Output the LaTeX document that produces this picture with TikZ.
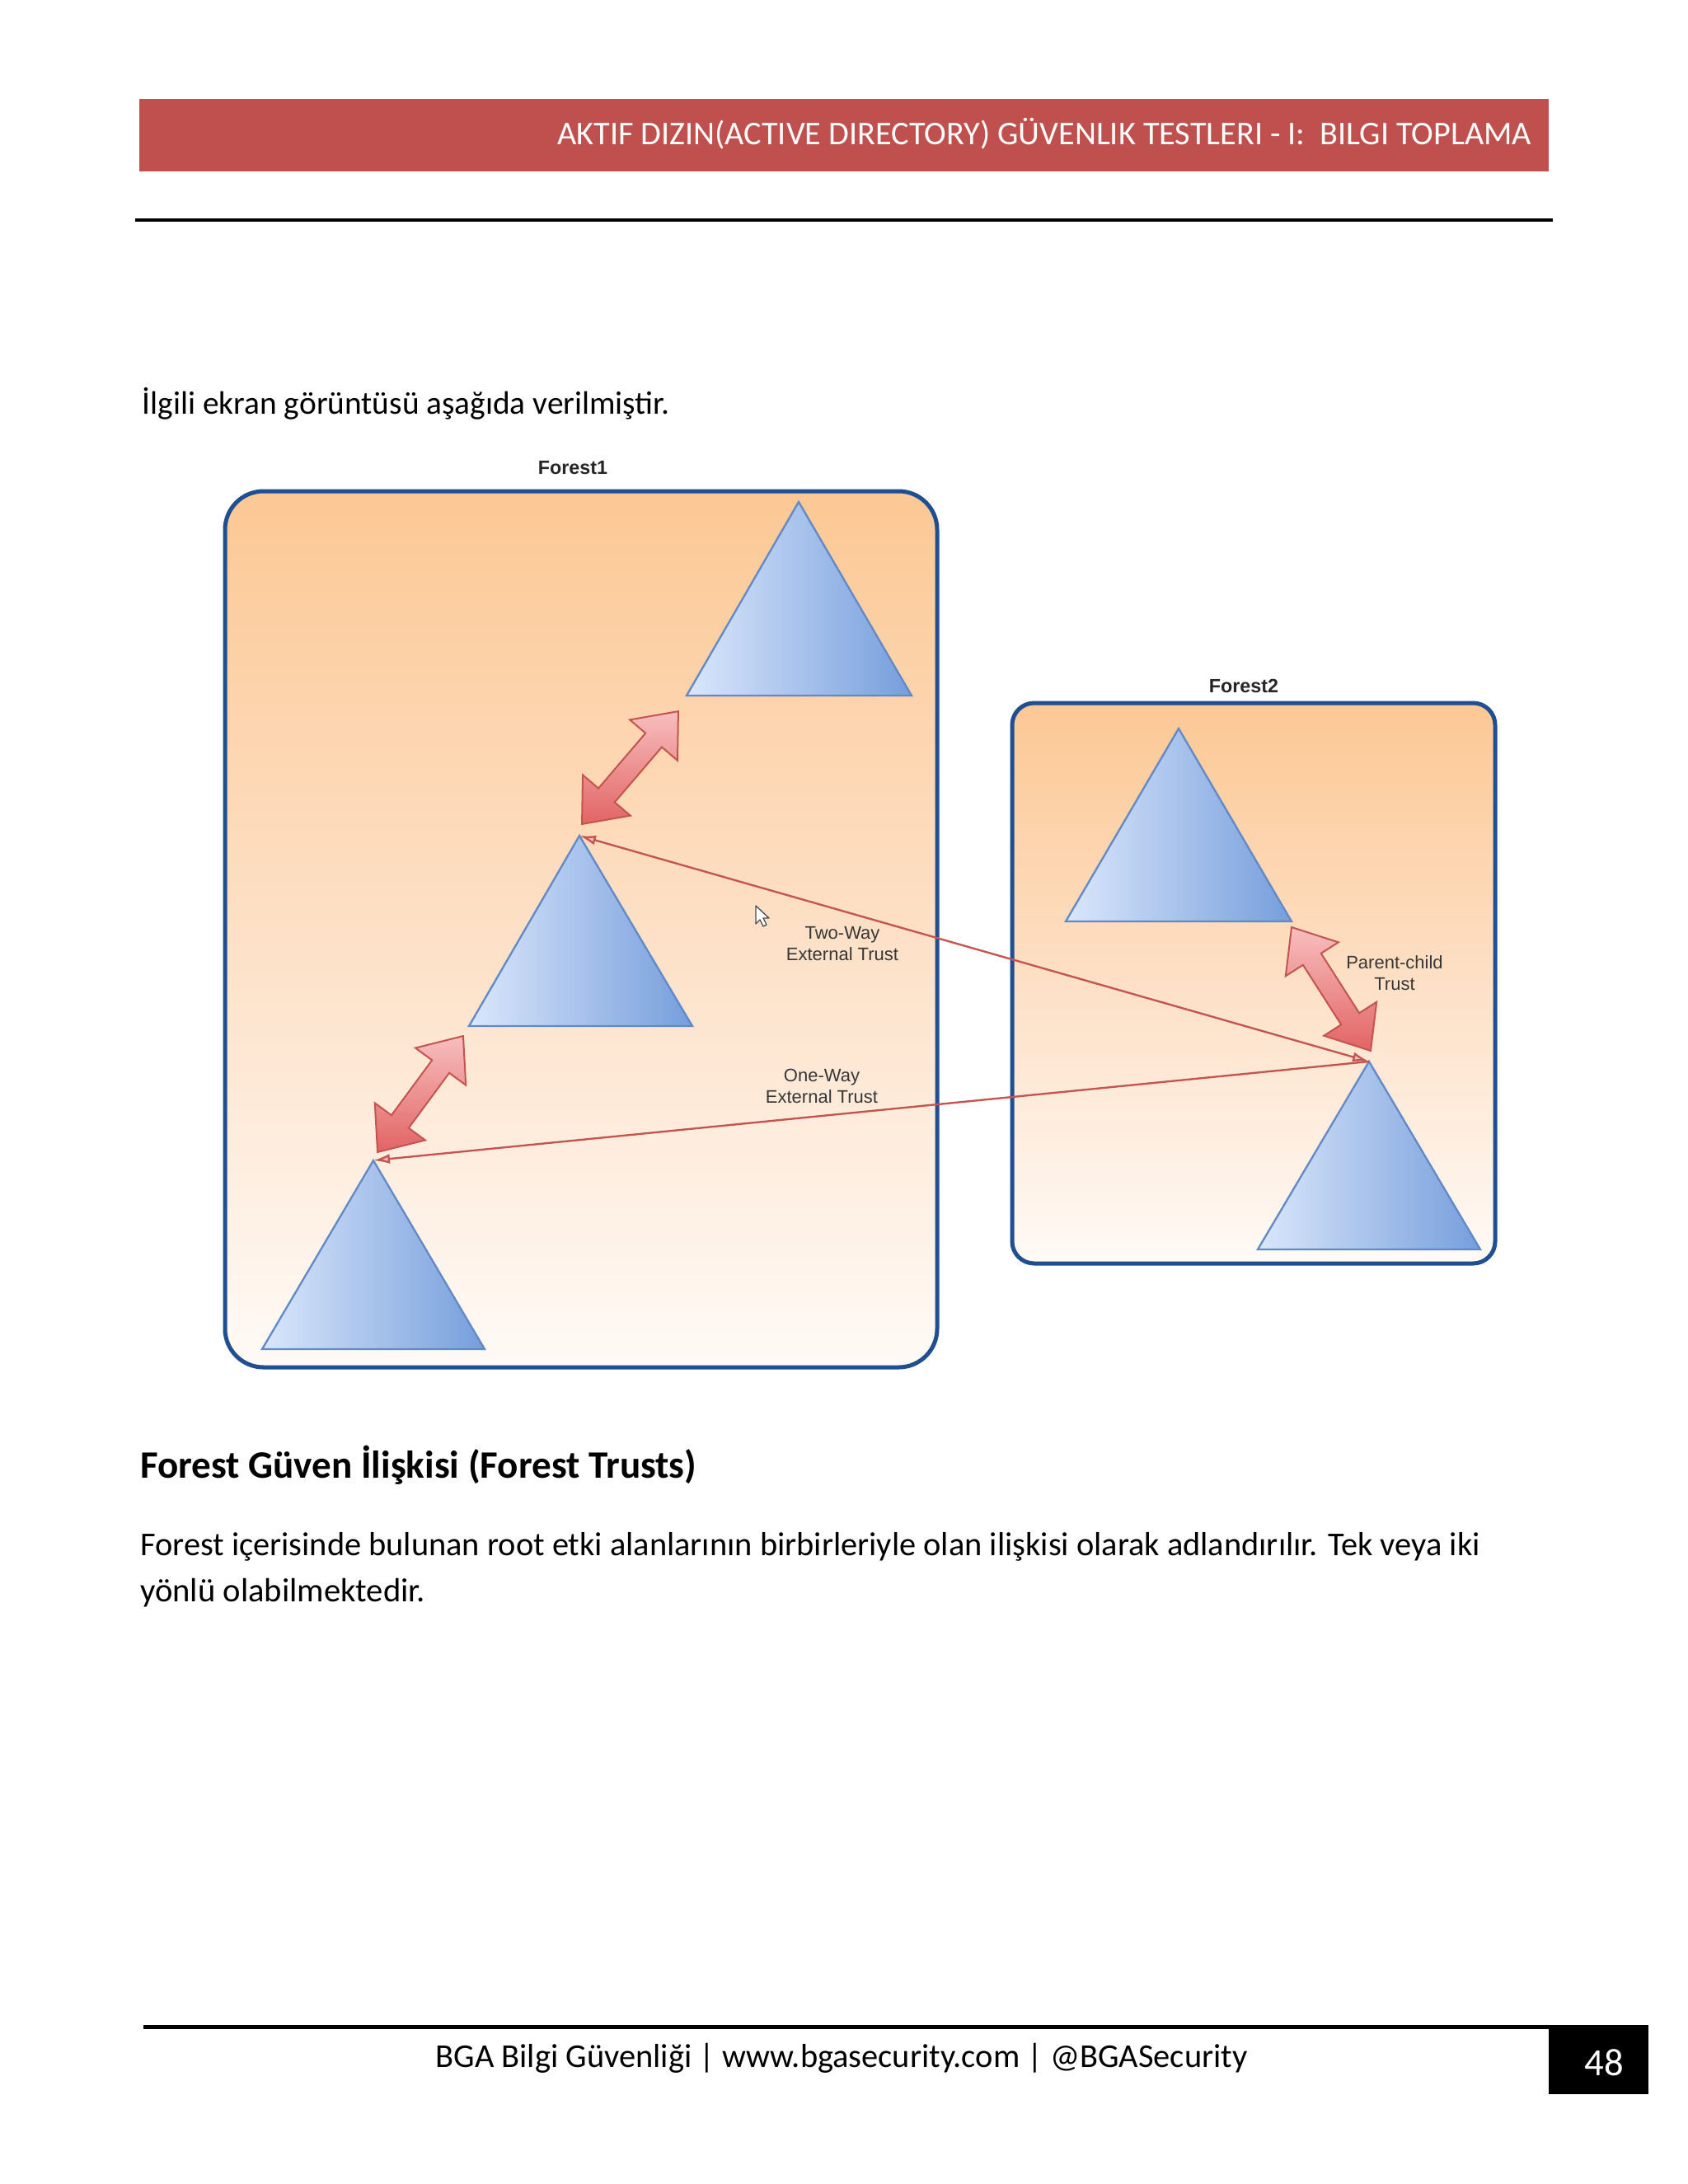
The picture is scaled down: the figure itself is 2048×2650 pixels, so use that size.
\documentclass[tikz,border=0pt]{standalone}
\usepackage{fontspec}
\usepackage{graphicx}
\setmainfont{Carlito}
\newfontfamily\arialf{Liberation Sans}
\usetikzlibrary{arrows.meta}
\definecolor{hdrred}{RGB}{192,80,77}
\definecolor{boxblue}{RGB}{31,78,145}
\definecolor{triedge}{RGB}{98,138,200}
\definecolor{trileft}{RGB}{218,231,251}
\definecolor{triright}{RGB}{118,158,220}
\definecolor{orgtop}{RGB}{252,200,148}
\definecolor{orgmid}{RGB}{253,224,198}
\definecolor{orgbot}{RGB}{255,250,246}
\definecolor{arrred}{RGB}{196,84,80}
\definecolor{arrlight}{RGB}{248,190,190}
\definecolor{arrdark}{RGB}{226,100,100}
\definecolor{lblgray}{RGB}{55,55,55}
\tikzset{
  forestbox/.style={draw=boxblue, line width=1.5pt, top color=orgtop, bottom color=orgbot, middle color=orgmid},
  domaintri/.style={draw=triedge, line width=0.7pt, left color=trileft, right color=triright},
  fatfill/.style={draw=arrred, line width=0.6pt, line join=miter, top color=arrlight, bottom color=arrdark},
  pics/fatdbl/.style={code={
    \path[fatfill] ({-#1/2},0) -- ({-#1/2+46},38) -- ({-#1/2+46},13) -- ({#1/2-46},13) -- ({#1/2-46},38)
      -- ({#1/2},0) -- ({#1/2-46},-38) -- ({#1/2-46},-13) -- ({-#1/2+46},-13) -- ({-#1/2+46},-38) -- cycle;
  }},
  trustline/.style={draw=arrred, line width=0.7pt},
  difont/.style={font=\arialf\fontsize{6.6}{7.8}\selectfont, text=lblgray, align=center, inner sep=0pt},
  forestlbl/.style={font=\arialf\bfseries\fontsize{7}{8}\selectfont, text=black!85, inner sep=0pt},
  pagetext/.style={anchor=base west, inner sep=0pt}
}
\begin{document}
\begin{tikzpicture}[x=0.3pt,y=-0.3pt]
\useasboundingbox (0,0) rectangle (2048,2650);
\fill[white] (0,0) rectangle (2048,2650);
% header
\fill[hdrred] (169,120) rectangle (1879,208);
\node[anchor=base east, inner sep=0pt, text=white] (hdr) at (1859,175)
  {\resizebox{354.6pt}{!}{AKTIF DIZIN(ACTIVE DIRECTORY) GÜVENLIK TESTLERI - I:\ \ BILGI TOPLAMA}};
\fill[black] (164,265) rectangle (1884,269);
% intro text
\node[pagetext] (intro) at (172,502) {\resizebox{192pt}{!}{İlgili ekran görüntüsü aşağıda verilmiştir.}};
% forests
\path[forestbox, rounded corners=14pt] (273,596) rectangle (1137,1659);
\node[forestlbl] (f1lbl) at (695,568) {Forest1};
\path[forestbox, rounded corners=8pt] (1228,853) rectangle (1814,1533);
\node[forestlbl] (f2lbl) at (1509,832) {Forest2};
% triangles
\path[domaintri] (969,609) -- (1106,844) -- (833,844) -- cycle;
\path[domaintri] (703,1014) -- (840,1245) -- (569,1245) -- cycle;
\path[domaintri] (453,1408) -- (588,1637) -- (318,1637) -- cycle;
\path[domaintri] (1430,884) -- (1567,1118) -- (1293,1118) -- cycle;
\path[domaintri] (1661,1288) -- (1796,1516) -- (1526,1516) -- cycle;
\coordinate (t1apex) at (969,609);
\coordinate (t2apex) at (703,1014);
\coordinate (t3apex) at (453,1408);
\coordinate (t4apex) at (1430,884);
\coordinate (t5apex) at (1661,1288);
% fat double arrows
\coordinate (a1s) at (706,1000);
\coordinate (a1e) at (823,863);
\coordinate (a2s) at (458,1398);
\coordinate (a2e) at (562,1257);
\coordinate (a3s) at (1567,1125);
\coordinate (a3e) at (1663,1275);
\path (a1s) -- (a1e) pic[pos=0.5, sloped] (fa1) {fatdbl=180};
\path (a2s) -- (a2e) pic[pos=0.5, sloped] (fa2) {fatdbl=175};
\path (a3s) -- (a3e) pic[pos=0.5, sloped] (fa3) {fatdbl=178};
% trust lines
\draw[trustline, {Latex[length=6pt,width=3.6pt,open,fill=arrlight]}-{Latex[length=6pt,width=3.6pt,open,fill=arrlight]}] (t2apex) -- (t5apex);
\draw[trustline, -{Latex[length=6pt,width=3.6pt,open,fill=arrlight]}] (t5apex) -- (t3apex);
% labels
\node[difont] (twoway) at (1022,1145) {Two-Way\\External Trust};
\node[difont] (oneway) at (997,1318) {One-Way\\External Trust};
\node[difont] (pctrust) at (1692,1181) {Parent-child\\Trust};
% cursor
\draw[black!70, fill=white, line width=0.4pt, line join=round]
  (917,1099) -- (917,1121) -- (922,1116) -- (926,1124) -- (930,1122) -- (926,1114) -- (933,1114) -- cycle;
% heading and paragraph
\node[pagetext] (heading) at (169.5,1793) {\resizebox{202.5pt}{!}{\bfseries Forest Güven İlişkisi (Forest Trusts)}};
\node[pagetext] (para1) at (169.5,1887) {\resizebox{487.8pt}{!}{Forest içerisinde bulunan root etki alanlarının birbirleriyle olan ilişkisi olarak adlandırılır. Tek veya iki}};
\node[pagetext] (para2) at (169.5,1943) {\resizebox{103.8pt}{!}{yönlü olabilmektedir.}};
% footer
\fill[black] (174,2457) rectangle (1879,2462);
\fill[black] (1879,2457) rectangle (2000,2541);
\node[anchor=center, inner sep=0pt, text=white, font=\fontsize{14}{16}\selectfont] (pgnum) at (1946,2503) {48};
\node[pagetext] (footer) at (528,2508) {\resizebox{295.5pt}{!}{BGA Bilgi Güvenliği | www.bgasecurity.com | @BGASecurity}};
\end{tikzpicture}
\end{document}
